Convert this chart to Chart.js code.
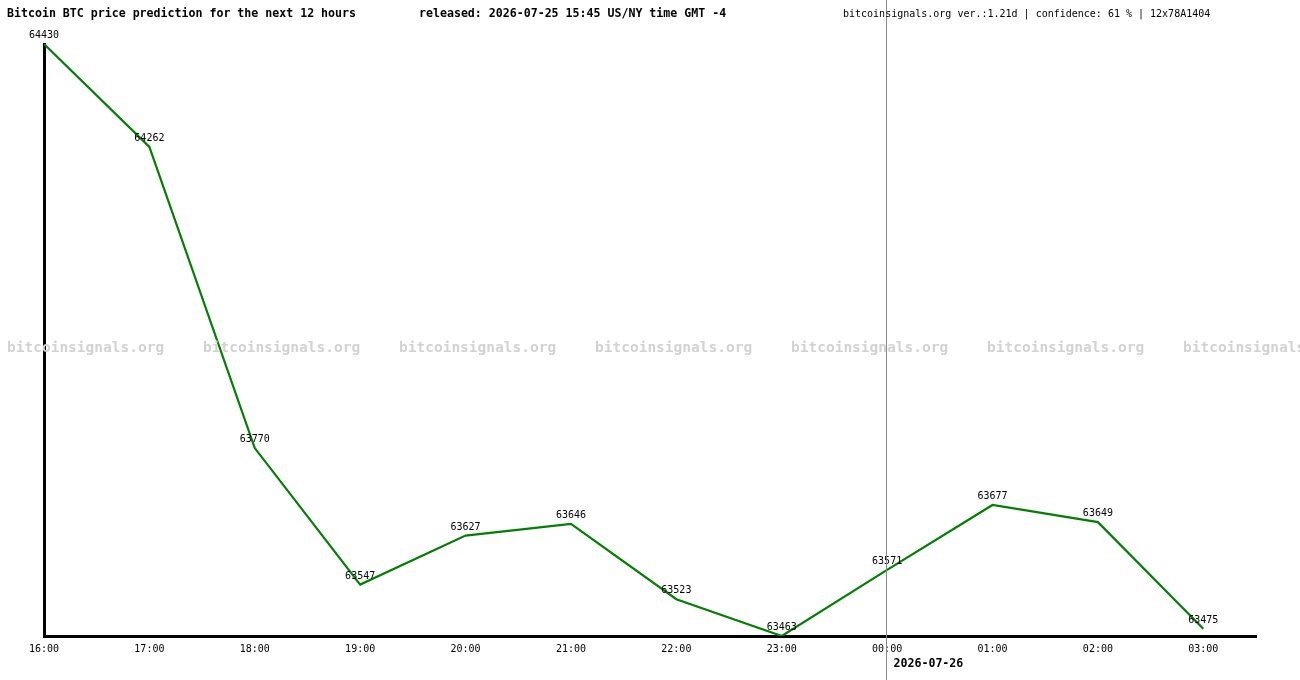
<!DOCTYPE html>
<html>
<head>
<meta charset="utf-8">
<script src="https://cdn.jsdelivr.net/npm/chart.js@4/dist/chart.umd.min.js"></script>
<style>
  html, body { margin: 0; padding: 0; background: #fff; }
  #wrap { width: 1300px; height: 680px; position: relative; }
</style>
</head>
<body>
<div id="wrap"><canvas id="c" width="1300" height="680"></canvas></div>
<script>
const hours = ["16:00","17:00","18:00","19:00","20:00","21:00","22:00","23:00","00:00","01:00","02:00","03:00"];
const prices = [64430, 64262, 63770, 63547, 63627, 63646, 63523, 63463, 63571, 63677, 63649, 63475];
const titleLeft = "Bitcoin BTC price prediction for the next 12 hours";
const titleMid = "released: 2026-07-25 15:45 US/NY time GMT -4";
const titleRight = "bitcoinsignals.org ver.:1.21d | confidence: 61 % | 12x78A1404";
const watermark = "bitcoinsignals.org";
const nextDate = "2026-07-26";
const midnightIndex = hours.indexOf("00:00");

const MONO = '"DejaVu Sans Mono", "Liberation Mono", monospace';

const overlay = {
  id: 'overlay',
  afterDatasetsDraw(chart) {
    const ctx = chart.ctx;
    const xs = chart.scales.x;
    const meta = chart.getDatasetMeta(0);
    ctx.save();
    // watermark
    ctx.font = 'bold 14.5px ' + MONO;
    ctx.fillStyle = 'rgb(210,210,210)';
    ctx.textBaseline = 'middle';
    ctx.textAlign = 'left';
    for (let x = 7; x < 1300; x += 196) ctx.fillText(watermark, x, 348);
    // data labels
    ctx.font = '10px ' + MONO;
    ctx.fillStyle = '#000';
    ctx.textAlign = 'center';
    meta.data.forEach((p, i) => {
      ctx.fillText(String(prices[i]), p.x, p.y - 8.5);
    });
    // midnight line
    const mx = Math.floor(xs.getPixelForValue(midnightIndex)) - 0.5;
    ctx.strokeStyle = 'rgb(136,136,136)';
    ctx.lineWidth = 1;
    ctx.beginPath(); ctx.moveTo(mx, 0); ctx.lineTo(mx, 680); ctx.stroke();
    // date label
    ctx.font = 'bold 11.6px ' + MONO;
    ctx.textAlign = 'left';
    ctx.fillText(nextDate, mx + 7, 664);
    // titles
    ctx.fillText(titleLeft, 7, 14);
    ctx.fillText(titleMid, 419, 14);
    ctx.font = '10px ' + MONO;
    ctx.fillText(titleRight, 843, 14);
    ctx.restore();
  }
};

new Chart(document.getElementById('c'), {
  type: 'line',
  data: {
    datasets: [{
      data: prices.map((v, i) => ({ x: i, y: v })),
      borderColor: 'rgb(0,128,0)',
      borderWidth: 2.2,
      pointRadius: 0,
      tension: 0,
      fill: false
    }]
  },
  options: {
    responsive: false,
    animation: false,
    devicePixelRatio: 1,
    layout: { padding: { left: 44, top: 44, right: 44, bottom: 0 } },
    plugins: { legend: { display: false }, tooltip: { enabled: false } },
    scales: {
      x: {
        type: 'linear',
        min: 0,
        max: 11.5,
        grid: { display: false, drawTicks: false },
        border: { display: true, color: '#000', width: 3 },
        ticks: {
          stepSize: 1,
          autoSkip: false,
          maxRotation: 0,
          padding: 7,
          color: '#000',
          font: { family: MONO, size: 10 },
          callback: (v) => Number.isInteger(v) && hours[v] !== undefined ? hours[v] : ''
        },
        afterFit: (s) => { s.height = 44; }
      },
      y: {
        type: 'linear',
        min: 63463,
        max: 64430,
        grid: { display: false, drawTicks: false },
        border: { display: true, color: '#000', width: 3 },
        ticks: { display: false },
        afterFit: (s) => { s.width = 0; }
      }
    }
  },
  plugins: [overlay]
});
</script>
</body>
</html>
